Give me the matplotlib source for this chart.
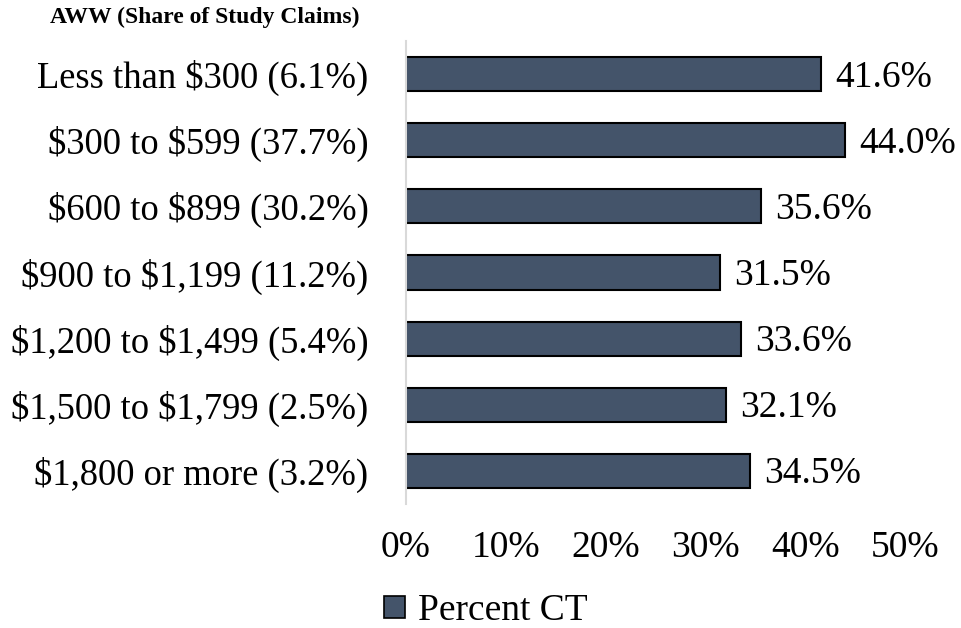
import matplotlib.pyplot as plt
from matplotlib.patches import Patch

plt.rcParams['font.family'] = ['Liberation Serif', 'DejaVu Serif']
plt.rcParams['text.parse_math'] = False

# AWW categories (share of study claims) and percent CT
categories = ['Less than $300 (6.1%)', '$300 to $599 (37.7%)', '$600 to $899 (30.2%)',
              '$900 to $1,199 (11.2%)', '$1,200 to $1,499 (5.4%)', '$1,500 to $1,799 (2.5%)',
              '$1,800 or more (3.2%)']
pct_ct = [41.6, 44.0, 35.6, 31.5, 33.6, 32.1, 34.5]
xticks = [0, 10, 20, 30, 40, 50]

bar_color = '#44546A'
fs = 27

fig = plt.figure(figsize=(9.61, 6.28), dpi=100)
ax = fig.add_axes([406 / 961, 1 - 504 / 628, 499 / 961, 463 / 628])

y = list(range(len(categories)))
ax.barh(y, pct_ct, height=0.515, color=bar_color, edgecolor='black', linewidth=1.5)
for yi, v in zip(y, pct_ct):
    ax.text(v + 1.4, yi + 0.05, f'{v:.1f}%', va='center', ha='left', fontsize=fs)

ax.set_ylim(len(categories) - 0.5, -0.5)
ax.set_xlim(0, 50)
ax.set_yticks(y)
ax.set_yticklabels(categories, fontsize=26.4)
ax.set_xticks(xticks)
ax.set_xticklabels([f'{t}%' for t in xticks], fontsize=fs)
ax.tick_params(length=0)
ax.tick_params(axis='y', pad=27)
ax.tick_params(axis='x', pad=19)
for s in ['top', 'right', 'bottom']:
    ax.spines[s].set_visible(False)
ax.spines['left'].set_color('#D9D9D9')
ax.spines['left'].set_linewidth(1.5)

fig.text(50 / 961, 1 - 17 / 628, 'AWW (Share of Study Claims)', fontsize=17,
         fontweight='bold', ha='left', va='center')

handle = Patch(facecolor=bar_color, edgecolor='black', linewidth=1.2)
fig.legend([handle], ['Percent CT'], loc='center', bbox_to_anchor=(486 / 961, 1 - 611 / 628),
           frameon=False, fontsize=fs, handlelength=0.55, handleheight=0.55, handletextpad=0.35,
           borderpad=0)

fig.savefig('out.png', dpi=100)
